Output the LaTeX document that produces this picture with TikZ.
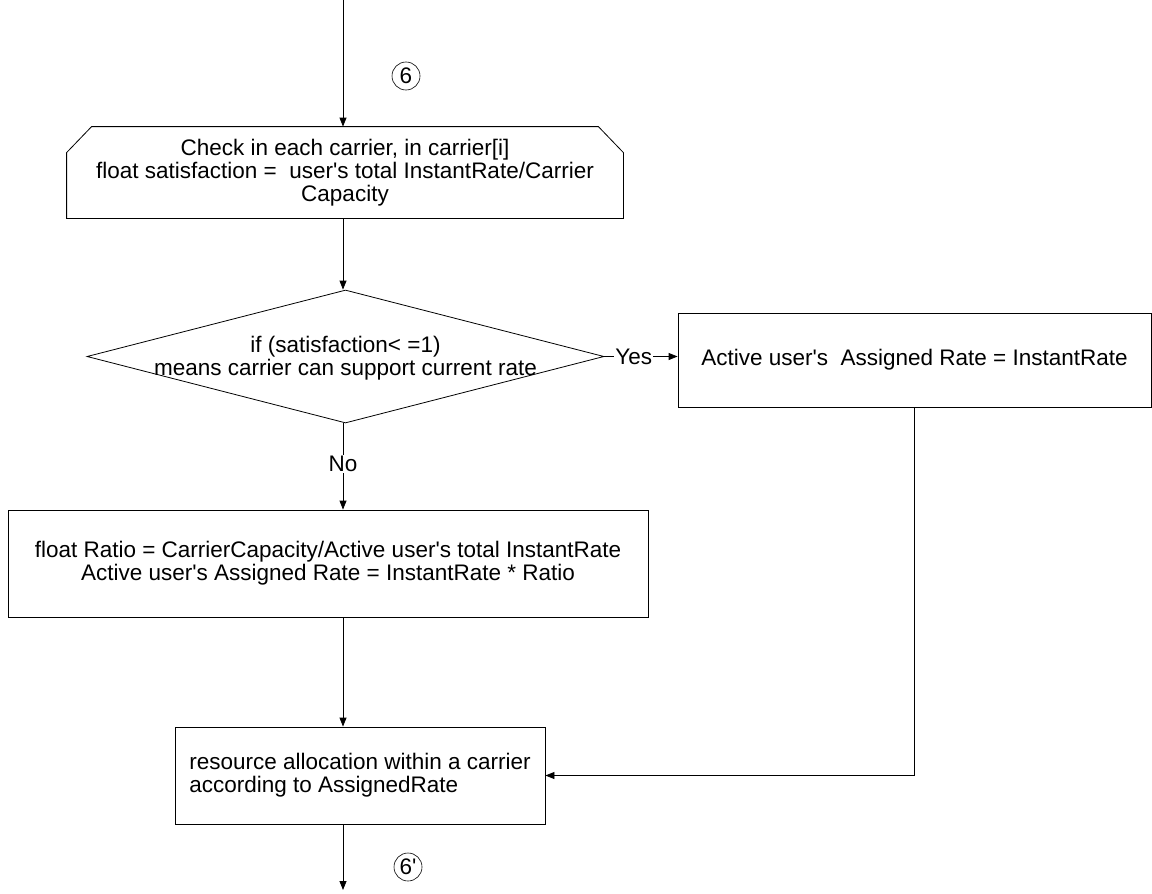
\documentclass[tikz,border=0pt]{standalone}
\usepackage{fontspec}
\setmainfont{Liberation Sans}
\usetikzlibrary{arrows.meta,shapes.geometric,calc}
\newcommand{\apos}{\textquotesingle}

\begin{document}
\begin{tikzpicture}[x=1pt,y=-1pt,>={Triangle[length=9pt,width=7pt]},
    line width=0.8pt,
    every node/.style={font=\fontsize{22.5}{23}\selectfont},
    box/.style={draw,rectangle,align=center,inner sep=0pt},
    loopbox/.style={rectangle,align=center,inner sep=0pt},
    decision/.style={draw,diamond,inner sep=0pt},
    marker/.style={draw,circle,inner sep=1pt,minimum size=28,line width=0.6pt}]
  \useasboundingbox (0,0) rectangle (1152,894);

  \coordinate (start) at (343,0);
  \node[marker] (m6) at (406,76) {6};

  % loop limit box with cut top corners
  \node[loopbox,minimum width=556,minimum height=91] (check) at (345,172.5)
       {Check in each carrier, in carrier[i]\\
        float satisfaction =~~user\apos s total InstantRate/Carrier\\
        Capacity};
  \draw ($(check.north west)+(0,26)$) -- ($(check.north west)+(25,0)$)
     -- ($(check.north east)+(-25,0)$) -- ($(check.north east)+(0,26)$)
     -- (check.south east) -- (check.south west) -- cycle;

  \node[decision,minimum width=517,minimum height=133] (dec) at (345.5,356.5) {};
  \node[align=center] (dectext) at (345.5,358)
       {if (satisfaction< =1)\\means carrier can support current rate};

  \node[box,minimum width=473,minimum height=94] (yesbox) at (914.5,360)
       {Active user\apos s~~Assigned Rate = InstantRate};

  \node[box,minimum width=640,minimum height=107] (ratio) at (328,563.5)
       {float Ratio = CarrierCapacity/Active user\apos s total InstantRate\\
        Active user\apos s Assigned Rate = InstantRate * Ratio};

  \node[box,align=left,minimum width=370,minimum height=97] (alloc) at (360,775.5)
       {resource allocation within a carrier\\according to AssignedRate};

  \coordinate (finish) at (343,890);
  \node[marker] (m6b) at (408,867) {6\apos};

  % connectors
  \draw[->] (start) -- (start |- check.north);
  \draw[->] (check.south -| start) -- (start |- dec.north);
  \draw[->] (dec.east) -- node[pos=0.4,fill=white,inner sep=1pt] {Yes} (dec.east -| yesbox.west);
  \draw[->] (start |- dec.south) -- node[pos=0.47,fill=white,inner sep=1pt] {No} (start |- ratio.north);
  \draw[->] (start |- ratio.south) -- (start |- alloc.north);
  \draw[->] (yesbox.south) |- (alloc.east);
  \draw[->] (start |- alloc.south) -- (finish);
\end{tikzpicture}
\end{document}
